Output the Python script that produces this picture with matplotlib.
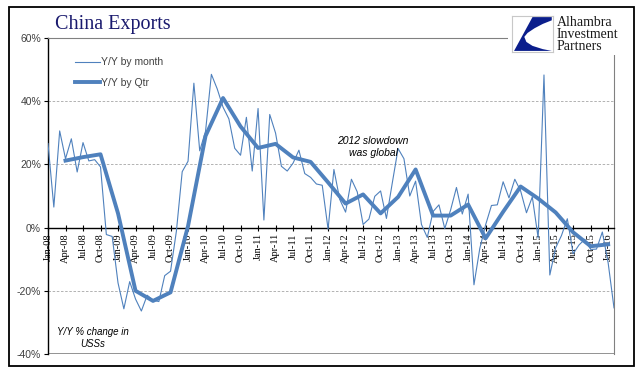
import matplotlib
matplotlib.use("Agg")
import matplotlib.pyplot as plt
from matplotlib.patches import Rectangle, Polygon
import numpy as np

# monthly Y/Y export growth, Jan-08 .. Feb-16 (%)
monthly = [26.6, 6.5, 30.6, 21.8, 28.1, 17.6, 26.9, 21.1, 21.5, 19.2, -2.2, -2.8,
           -17.5, -25.7, -17.1, -22.6, -26.4, -21.4, -23.0, -23.4, -15.2, -13.8, -1.2, 17.7,
           21.0, 45.7, 24.3, 30.5, 48.5, 43.9, 38.1, 34.4, 25.1, 22.9, 34.9, 17.9,
           37.7, 2.4, 35.8, 29.9, 19.4, 17.9, 20.4, 24.5, 17.1, 15.9, 13.8, 13.4,
           -0.5, 18.4, 8.9, 4.9, 15.3, 11.3, 1.0, 2.7, 9.9, 11.6, 2.9, 14.1,
           25.0, 21.8, 10.0, 14.7, 1.0, -3.1, 5.1, 7.2, -0.3, 5.6, 12.7, 4.3,
           10.6, -18.1, -6.6, 0.9, 7.0, 7.2, 14.5, 9.4, 15.3, 11.6, 4.7, 9.7,
           -3.3, 48.3, -15.0, -6.4, -2.5, 2.8, -8.3, -5.5, -3.7, -6.9, -6.8, -1.4,
           -11.2, -25.4]

# quarterly Y/Y, plotted at Apr-08, Jul-08, ... Jan-16
quarterly = [21.2, 22.3, 23.2, 4.5, -20.0, -23.2, -20.5, 0.5,
             29.0, 41.0, 32.0, 25.2, 26.5, 22.2, 20.8, 14.3,
             7.6, 10.5, 4.5, 9.7, 18.4, 3.8, 3.8, 7.3,
             -3.4, 5.0, 13.0, 9.2, 4.8, -1.5, -5.9, -5.3]

months = ['Jan', 'Apr', 'Jul', 'Oct']
tick_labels = ['%s-%02d' % (m, y) for y in range(8, 16) for m in months] + ['Jan-16']
yticks = [-40, -20, 0, 20, 40, 60]

W, H = 641, 379
fig = plt.figure(figsize=(W / 100, H / 100), dpi=100)
ax = fig.add_axes([48 / W, 1 - 354 / H, (614 - 48) / W, (354 - 38) / H])

blue = '#4F81BD'
xm = np.arange(len(monthly))
xq = np.arange(3, 3 + 3 * len(quarterly), 3)
ax.plot(xm, monthly, color=blue, lw=0.8, label='Y/Y by month', zorder=3)
ax.plot(xq, quarterly, color=blue, lw=2.8, label='Y/Y by Qtr', zorder=4)

ax.set_xlim(0, len(monthly) - 1)
ax.set_ylim(-40, 60)

for v in [-20, 20, 40]:
    ax.axhline(v, color='#A6A6A6', lw=0.6, ls=(0, (3, 2)), zorder=1)
ax.axhline(-40, color='#808080', lw=1.2, zorder=2)

ax.spines['bottom'].set_position(('data', 0))
ax.spines['bottom'].set_color('black')
ax.spines['bottom'].set_linewidth(1.0)
ax.spines['left'].set_color('black')
ax.spines['left'].set_linewidth(1.0)
ax.spines['top'].set_color('#808080')
ax.spines['right'].set_color('#808080')

ax.set_xticks(np.arange(0, 97, 3))
ax.set_xticklabels(tick_labels, rotation=90, ha='center', va='top',
                   family='Liberation Serif', fontsize=7.5)
ax.tick_params(axis='x', direction='inout', length=4, width=0.8, pad=2)
ax.set_yticks(yticks)
ax.set_yticklabels(['%d%%' % v for v in yticks], family='Liberation Sans',
                   fontsize=7.5, color='#404040')
ax.tick_params(axis='y', direction='out', length=3, width=0.8, pad=2)

leg = ax.legend(loc='upper left', bbox_to_anchor=(66 / W, 1 - 48 / H),
                bbox_transform=fig.transFigure, frameon=False,
                prop={'family': 'Liberation Sans', 'size': 7.5},
                handlelength=2.4, handletextpad=0.1, labelspacing=1.0)
for t in leg.get_texts():
    t.set_color('#404040')

fig.text(373 / W, 1 - 147 / H, '2012 slowdown\nwas global', ha='center', va='center',
         family='Liberation Sans', style='italic', fontsize=7.5, linespacing=1.35)
fig.text(93 / W, 1 - 338 / H, 'Y/Y % change in\nUSSs', ha='center', va='center',
         family='Liberation Sans', style='italic', fontsize=7.0, linespacing=1.2)

fig.text(55 / W, 1 - 24 / H, 'China Exports', family='Liberation Serif', fontsize=14.5,
         color='#1A1A6E', va='center', ha='left')

# logo area
fig.patches.append(Rectangle((508 / W, 1 - 55 / H), 124 / W, 46 / H, transform=fig.transFigure,
                             facecolor='white', edgecolor='none', zorder=5))
lx0, ly0, lw_, lh_ = 512, 16, 41, 36
lax = fig.add_axes([lx0 / W, 1 - (ly0 + lh_) / H, lw_ / W, lh_ / H], zorder=6)
lax.set_xlim(0, 1)
lax.set_ylim(0, 1)
lax.set_xticks([])
lax.set_yticks([])
for s in lax.spines.values():
    s.set_color('#C8C8C8')
    s.set_linewidth(0.8)
logo_pts = [(0.5, 0.97), (0.97, 0.97), (0.97, 0.88), (0.75, 0.78), (0.55, 0.66),
            (0.38, 0.53), (0.3, 0.42), (0.35, 0.28), (0.5, 0.17), (0.75, 0.08),
            (0.97, 0.03), (0.05, 0.03)]
lax.add_patch(Polygon(logo_pts, closed=True, facecolor='#0B1E8C', edgecolor='none'))
for i, word in enumerate(['Alhambra', 'Investment', 'Partners']):
    fig.text(557 / W, 1 - (23 + 11.5 * i) / H, word, family='Liberation Serif',
             fontsize=10, color='#1A1A1A', va='center', ha='left', zorder=7)

# outer frame
fig.patches.append(Rectangle((9 / W, 1 - 366 / H), 625 / W, 359 / H, transform=fig.transFigure,
                             facecolor='none', edgecolor='black', lw=1.3, zorder=8))

fig.savefig('out.png', dpi=100)
